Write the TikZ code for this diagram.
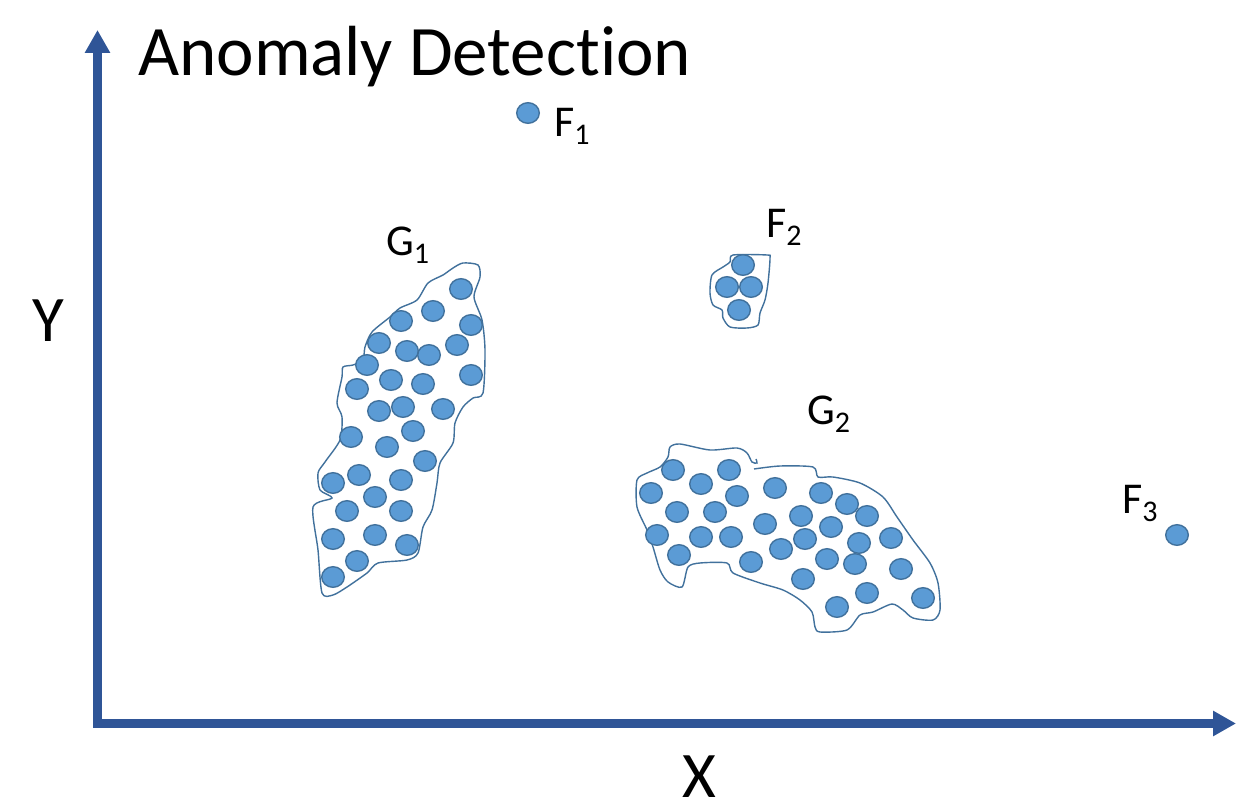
\documentclass[tikz,border=0pt]{standalone}
\usepackage{fontspec}
\setmainfont{Carlito}[Ligatures=NoCommon]
\usetikzlibrary{arrows.meta}
\definecolor{axisblue}{RGB}{47,85,151}
\definecolor{dotfill}{RGB}{91,155,213}
\definecolor{dotline}{RGB}{65,113,156}
\newcommand\lbsub[1]{\raisebox{-0.2em}{\fontsize{30}{30}\selectfont #1}}
\tikzset{
  axisline/.style={draw=axisblue,line width=9pt,line join=miter,
    arrows={Triangle[length=23pt,width=24pt]-Triangle[length=23pt,width=24pt]}},
  dotshape/.style={fill=dotfill,draw=dotline,line width=1.4pt},
  blob/.style={draw=dotline,line width=1.4pt},
  lbl/.style={anchor=base west,inner sep=0pt,font=\fontsize{44}{44}\selectfont},
  bigl/.style={anchor=base west,inner sep=0pt,text depth=0pt,font=\fontsize{65}{65}\selectfont},
}
\begin{document}
\begin{tikzpicture}[x=1pt,y=-1pt]
\useasboundingbox (0,0) rectangle (1252,808);
\fill[white] (0,0) rectangle (1252,808);
% axes
\coordinate (ytop) at (97.5,30);
\coordinate (orig) at (97.5,723.5);
\coordinate (xend) at (1236,723.5);
\draw[axisline] (ytop) -- (orig) -- (xend);
% title and axis labels
\node[anchor=base west,inner sep=0pt,font=\fontsize{71}{71}\selectfont] (title) at (138,75) {Anomaly Detection};
\node[bigl] (ylab) at (32,341) {Y};
\node[bigl] (xlab) at (682,797) {X};
% group labels
\node[lbl] (f1) at (554,136) {F\lbsub{1}};
\node[lbl] (f2) at (766,237) {F\lbsub{2}};
\node[lbl] (f3) at (1122,513) {F\lbsub{3}};
\node[lbl] (g1) at (386,255) {G\lbsub{1}};
\node[lbl] (g2) at (807,424) {G\lbsub{2}};
% G1 outline
\draw[blob] plot[smooth cycle,tension=0.45] coordinates {
(463,263) (478,265) (480,277) (474,297) (482,320) (485,350) (483,393) (473,398)
(463,407) (455,423) (453,443) (440,463) (437,483) (432,510) (423,527) (418,553)
(407,560) (378,563) (367,573) (347,587) (333,595) (322,593) (318,550) (313,507)
(332,498) (320,490) (318,473) (325,462) (340,440) (342,417) (337,403) (342,377)
(343,367) (353,365) (363,360) (365,347) (372,332) (390,317) (400,308) (417,300)
(428,283) (443,275) (453,268)};
% G2 outline
\draw[blob] plot[smooth,tension=0.45] coordinates {
(754,469) (780,466) (813,467) (818,477) (833,477) (860,483) (883,497) (897,517)
(913,540) (930,563) (938,583) (940,610) (933,620) (913,618) (903,610) (892,604)
(873,612) (860,615) (847,630) (820,632) (815,627) (812,612) (800,600) (783,590)
(760,583) (733,573) (727,563) (700,563) (688,567) (682,587) (668,582) (660,570)
(653,547) (647,530) (637,507) (637,480) (647,473) (660,467) (668,457) (670,447)
(680,444) (710,450) (737,448) (747,453) (752,462) (757,463) (756,459)};
% F2 outline
\draw[blob] plot[smooth cycle,tension=0.45] coordinates {
(733,255) (767,255) (770,258) (768,283) (765,300) (760,313) (758,325) (747,328)
(730,327) (723,318) (722,310) (713,305) (710,293) (712,275) (723,267) (730,262)};
% dots
\foreach \x/\y in {
461/289, 433/311, 401/321, 471/325, 379/343, 407/351, 429/355, 457/345,
367/365, 391/380, 423/384, 471/375, 357/389, 379/411, 403/407, 443/409,
351/437, 413/431, 387/447, 425/461, 333/483, 359/475, 401/480, 375/497,
347/511, 401/511, 333/539, 375/535, 407/545, 357/561, 333/577,
673/470, 701/484, 729/470, 651/493, 737/496, 775/488, 677/512, 715/512,
821/493, 847/504, 867/516, 801/516, 831/527, 765/524, 657/535, 701/537,
731/537, 805/539, 859/543, 891/538, 781/549, 679/555, 751/562, 827/559,
855/564, 901/569, 803/579, 867/593, 837/607, 923/598,
743/265, 727/287, 751/287, 739/310,
528/113, 1177/535}
  \draw[dotshape] (\x,\y) ellipse [x radius=11.3pt,y radius=10.3pt];
\end{tikzpicture}
\end{document}
